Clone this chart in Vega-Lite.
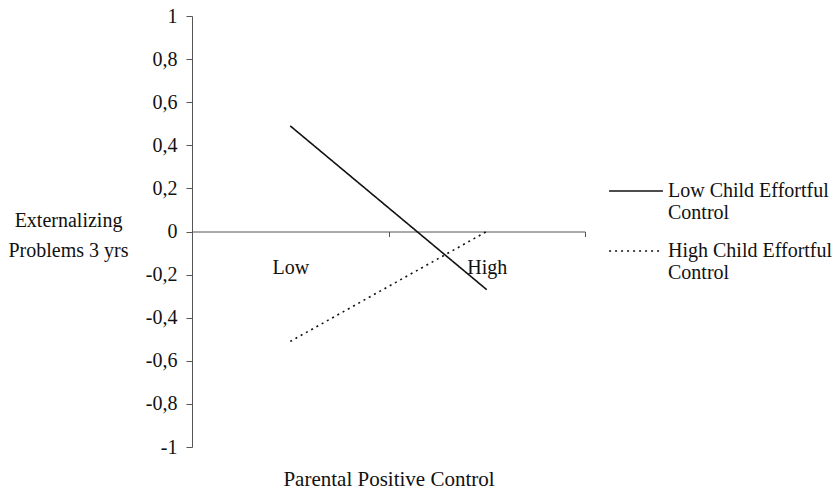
{
  "$schema": "https://vega.github.io/schema/vega-lite/v6.json",
  "autosize": "none",
  "width": 393,
  "height": 431,
  "padding": {"left": 192, "top": 16, "right": 248, "bottom": 49},
  "background": "white",
  "config": {
    "view": {"stroke": null},
    "font": "Liberation Serif",
    "axis": {"labelFont": "Liberation Serif", "titleFont": "Liberation Serif", "labelColor": "#111", "titleColor": "#111", "domainColor": "#555", "tickColor": "#555", "grid": false, "titleFontWeight": "normal"},
    "legend": {"labelFont": "Liberation Serif", "labelColor": "#111"}
  },
  "data": {
    "values": [
      {"parental": "Low", "group": "Low Child Effortful Control", "value": 0.49},
      {"parental": "High", "group": "Low Child Effortful Control", "value": -0.27},
      {"parental": "Low", "group": "High Child Effortful Control", "value": -0.51},
      {"parental": "High", "group": "High Child Effortful Control", "value": 0.0}
    ]
  },
  "mark": {"type": "line", "color": "#111", "strokeWidth": 1.6},
  "encoding": {
    "x": {
      "field": "parental",
      "type": "nominal",
      "sort": ["Low", "High"],
      "scale": {"type": "band", "paddingInner": 0, "paddingOuter": 0},
      "axis": {
        "title": "Parental Positive Control",
        "titleFontSize": 21,
        "titleY": 248,
        "titleBaseline": "middle",
        "labelFontSize": 20,
        "labelAngle": 0,
        "labelPadding": 21,
        "tickBand": "extent",
        "tickSize": 5,
        "offset": -215.5,
        "domainWidth": 1,
        "tickWidth": 1
      }
    },
    "y": {
      "field": "value",
      "type": "quantitative",
      "scale": {"domain": [-1, 1], "nice": false, "zero": false},
      "axis": {
        "values": [-1, -0.8, -0.6, -0.4, -0.2, 0, 0.2, 0.4, 0.6, 0.8, 1],
        "labelExpr": "replace(toString(datum.value), '.', ',')",
        "labelFontSize": 20,
        "labelPadding": 9,
        "tickSize": 6,
        "title": ["Externalizing", "Problems 3 yrs"],
        "titleFontSize": 20,
        "titleAngle": 0,
        "titleAlign": "center",
        "titleBaseline": "middle",
        "titleLineHeight": 30,
        "titleX": -124,
        "titleY": 204
      }
    },
    "strokeDash": {
      "field": "group",
      "type": "nominal",
      "sort": ["Low Child Effortful Control", "High Child Effortful Control"],
      "scale": {"domain": ["Low Child Effortful Control", "High Child Effortful Control"], "range": [[1, 0], [2, 4]]},
      "legend": {
        "title": null,
        "orient": "none",
        "legendX": 416,
        "legendY": 147,
        "symbolType": "stroke",
        "symbolSize": 2900,
        "symbolStrokeColor": "#111",
        "symbolStrokeWidth": 1.4,
        "labelFontSize": 20,
        "labelLineHeight": 25,
        "labelBaseline": "middle",
        "labelOffset": 4,
        "labelLimit": 300,
        "rowPadding": 0,
        "labelExpr": "[replace(datum.label, ' Control', ''), 'Control']"
      }
    }
  }
}
